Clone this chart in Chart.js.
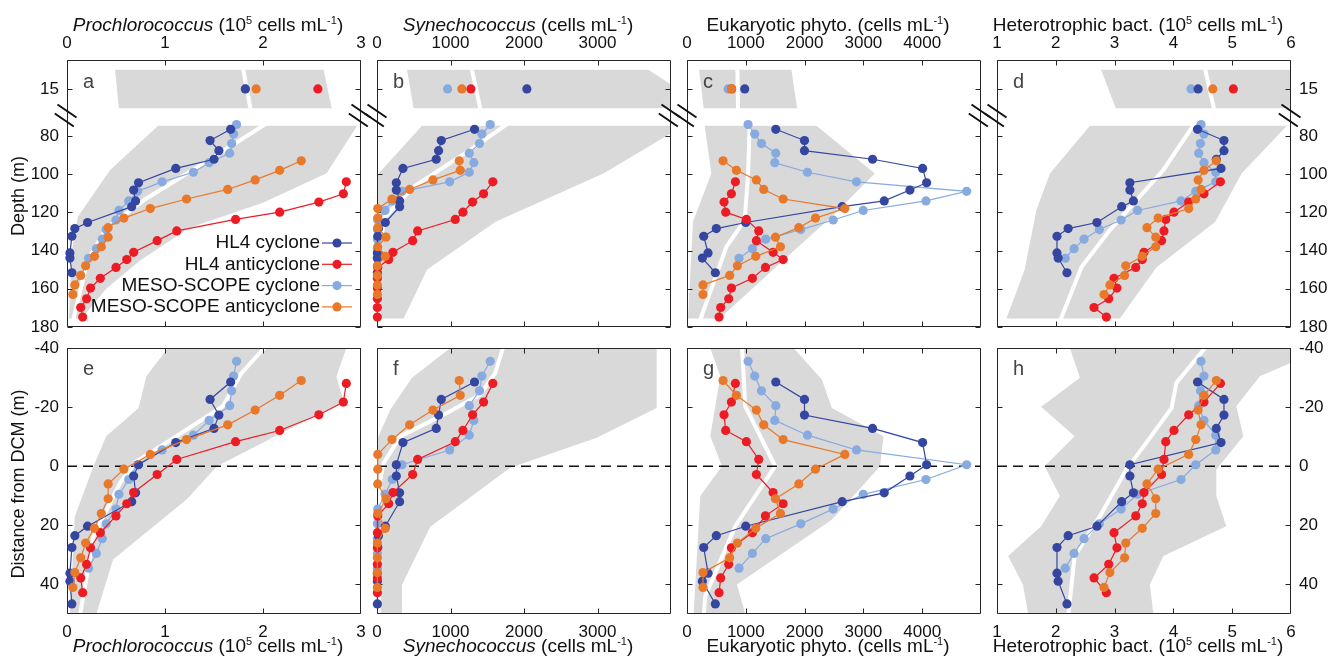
<!DOCTYPE html>
<html>
<head>
<meta charset="utf-8">
<title>Eddy profiles</title>
<script src="https://cdn.jsdelivr.net/npm/chart.js"></script>
<style>
  body { margin: 0; width: 1336px; height: 664px; position: relative; overflow: hidden; background: #fff;
         font-family: "Liberation Sans", Arial, Helvetica, sans-serif; color: #111; }
  canvas { position: absolute; }
  .lbl { position: absolute; font-size: 19px; line-height: 19px; white-space: nowrap; transform: translateX(-50%); }
  .lbl sup, .ylbl sup { font-size: 11px; line-height: 0; vertical-align: 7px; }
  .ylbl { position: absolute; font-size: 18px; line-height: 18px; white-space: nowrap; transform: translate(-50%, -50%) rotate(-90deg); }
  .letter { position: absolute; font-size: 20px; line-height: 20px; color: #444; }
</style>
</head>
<body>
<script>
// ---- series ---------------------------------------------------------------
const seriesNames = ['HL4 cyclone', 'HL4 anticyclone', 'MESO-SCOPE cyclone', 'MESO-SCOPE anticyclone'];
const seriesColors = ['#3446a0', '#ec1c24', '#87aadf', '#e8782a'];

// sample depths (m), one array per profile
const surfaceDepth = 15;
const depthHL4Cyc  = [76.5, 82.4, 87.7, 92.2, 97, 104.5, 108.3, 114, 117, 125.3, 128.5, 132.5, 141.2, 143.9, 151.6];
const depthHL4Anti = [104, 110.3, 114.6, 119.9, 123.7, 129.7, 134.8, 140.9, 144.7, 148.8, 154.5, 159.6, 165.2, 169.8, 174.8];
const depthMesoCyc = [74, 79, 84, 89, 94, 99, 104, 109, 114, 119, 124, 129, 134, 139, 144];
const depthMesoAnti = [93, 98, 103, 108, 113, 118, 123, 128, 133, 138, 143, 148, 153, 158, 163];
// depth of the chlorophyll maximum of each profile (m)
const dcmDepth = [105, 132, 109.5, 122];

// Prochlorococcus (10^5 cells/mL)
const proSurface  = [1.82, 2.56, 1.82, 1.93];
const proHL4Cyc   = [1.67, 1.46, 1.55, 1.50, 1.11, 0.73, 0.68, 0.70, 0.66, 0.21, 0.08, 0.05, 0.03, 0.03, 0.05];
const proHL4Anti  = [2.85, 2.82, 2.57, 2.17, 1.72, 1.12, 0.92, 0.68, 0.61, 0.50, 0.34, 0.24, 0.20, 0.14, 0.16];
const proMesoCyc  = [1.73, 1.70, 1.68, 1.66, 1.45, 1.29, 0.97, 0.72, 0.63, 0.53, 0.50, 0.40, 0.36, 0.30, 0.22];
const proMesoAnti = [2.39, 2.17, 1.92, 1.64, 1.22, 0.85, 0.58, 0.42, 0.42, 0.35, 0.28, 0.19, 0.14, 0.08, 0.06];

// Synechococcus (cells/mL)
const synSurface  = [2039, 1278, 960, 1155];
const synHL4Cyc   = [1327, 874, 838, 806, 353, 263, 263, 308, 308, 113, 20, 10, 5, 5, 5];
const synHL4Anti  = [1576, 1450, 1300, 1169, 1065, 553, 485, 217, 159, 10, 5, 5, 5, 5, 5];
const synMesoCyc  = [1540, 1427, 1395, 1255, 1318, 1255, 988, 340, 208, 109, 10, 5, 5, 5, 5];
const synMesoAnti = [1119, 1133, 761, 444, 204, 10, 10, 10, 122, 10, 113, 5, 5, 5, 5];

// eukaryotic phytoplankton (cells/mL)
const eukSurface  = [982, 760, 698, 755];
const eukHL4Cyc   = [1510, 1998, 1998, 3156, 4007, 4075, 3791, 3354, 2639, 999, 499, 284, 358, 261, 482];
const eukHL4Anti  = [823, 755, 630, 658, 1010, 1220, 1180, 1464, 1635, 1334, 1112, 755, 709, 573, 545];
const eukMesoCyc  = [1039, 1152, 1266, 1510, 1493, 2049, 2883, 4756, 4064, 2997, 2486, 1935, 1339, 1112, 885];
const eukMesoAnti = [613, 840, 1180, 1305, 1635, 2684, 2185, 1901, 1504, 1589, 1169, 857, 726, 272, 272];

// heterotrophic bacteria (10^5 cells/mL)
const bactSurface  = [4.42, 5.02, 4.30, 4.67];
const bactHL4Cyc   = [4.41, 4.86, 4.86, 4.73, 4.81, 3.26, 3.26, 3.32, 3.12, 2.70, 2.21, 2.02, 2.02, 2.04, 2.19];
const bactHL4Anti  = [4.80, 4.52, 4.26, 4.01, 3.87, 3.84, 3.80, 3.50, 3.47, 3.36, 2.99, 3.04, 2.90, 2.65, 2.86];
const bactMesoCyc  = [4.47, 4.52, 4.46, 4.43, 4.52, 4.72, 4.72, 4.38, 4.13, 3.39, 3.11, 2.74, 2.48, 2.31, 2.16];
const bactMesoAnti = [4.73, 4.52, 4.42, 4.47, 4.38, 4.26, 3.74, 3.55, 3.70, 3.70, 3.47, 3.19, 3.17, 2.92, 2.82];

// ---- shaded ranges ([value, depth] vertices) and the white divider between them
const proSurfBand = [[0.49, 5], [2.62, 5], [2.70, 25], [0.53, 25]];
const proSurfGap  = [[1.795, 4], [1.875, 26]];
const proDeepBand = [[0.93, 74.6], [2.96, 74.6], [2.65, 99.5], [2.0, 115], [1.25, 128], [0.75, 145], [0.40, 160], [0.15, 175.5], [0.02, 175.5], [0.05, 140], [0.11, 122.3], [0.44, 97.8]];
const proDeepGap  = [[2.05, 73], [1.42, 93.5], [0.81, 112.7], [0.40, 128.5], [0.21, 145], [0.06, 177]];
const proDcmBand  = [[1.03, -40], [2.85, -40], [2.75, -30.4], [2.82, -22], [1.53, 0], [1.22, 11.3], [0.47, 31.6], [0.30, 50], [0.03, 50], [0.08, 16.9], [0.27, 0], [0.40, -10.1], [0.73, -19.7], [0.81, -30.4]];
const proDcmGap   = [[2.04, -41], [1.78, -31.5], [1.59, -20.3], [1.01, -7.9], [0.71, -1.7], [0.54, 5.7], [0.27, 23.7], [0.13, 51]];

const synSurfBand = [[408, 5], [3692, 5], [4000, 12.7], [4000, 25], [498, 25]];
const synSurfGap  = [[1285, 4], [1410, 26]];
const synDeepBand = [[612, 74.6], [4000, 74.6], [4000, 78.6], [3080, 99.6], [1608, 125], [680, 150], [362, 175.5], [0, 175.5], [0, 102], [23, 99.6]];
const synDeepGap  = [[1800, 73], [1268, 87.3], [498, 106.6], [113, 122.3], [45, 134.6], [23, 177]];
const synDcmBand  = [[997, -40], [3805, -40], [3805, -19.7], [2990, -9.6], [1812, 0.5], [725, 20.5], [340, 40.1], [340, 50], [0, 50], [0, -9], [23, -10.2], [181, -19.2], [476, -29.9]];
const synDcmGap   = [[1725, -41], [1608, -31.5], [1404, -24.2], [951, -18], [317, -10.1], [91, -1.1], [45, 4.5], [23, 51]];

const eukSurfBand = [[205, 5], [1776, 5], [1873, 25], [284, 25]];
const eukSurfGap  = [[857, 4], [868, 26]];
const eukDeepBand = [[301, 74.6], [2202, 74.6], [3195, 99.6], [2458, 122.3], [1578, 146.8], [556, 175.5], [17, 175.5], [102, 124.8], [414, 99.6]];
const eukDeepGap  = [[1067, 73], [1039, 99.6], [982, 124], [670, 138], [216, 177]];
const eukDcmBand  = [[396, -40], [1812, -40], [2293, -29.3], [2463, -19.7], [3341, -10.1], [3284, 0], [2463, 18.1], [849, 40], [991, 50], [113, 50], [226, 10.1], [594, 0], [396, -10.1], [566, -30.4]];
const eukDcmGap   = [[934, -41], [991, -20.3], [1500, 0], [821, 20.3], [311, 44], [283, 51]];

const bactSurfBand = [[2.77, 5], [6, 5], [6, 25], [3.02, 25]];
const bactSurfGap  = [[4.535, 4], [4.695, 26]];
const bactDeepBand = [[2.58, 74.6], [5.93, 74.6], [5.16, 99.6], [4.71, 125], [3.71, 148.8], [3.09, 175.5], [1.16, 175.5], [1.47, 150], [1.67, 118.8], [1.90, 99.6]];
const bactDeepGap  = [[4.37, 73], [3.83, 97.8], [2.92, 129.3], [2.44, 148.5], [2.07, 177]];
const bactDcmBand  = [[2.24, -40], [6, -40], [6, -35], [5.47, -30.4], [5.07, -20.3], [5.19, -10.1], [4.73, 1.1], [4.73, 10.1], [4.90, 20.3], [3.83, 30.4], [3.60, 40], [3.66, 50], [1.53, 50], [1.44, 40], [1.19, 30.4], [1.75, 20.3], [2.07, 10.1], [1.81, 0], [2.32, -10.1], [1.75, -20.1], [2.41, -29.9]];
const bactDcmGap   = [[4.58, -41], [4.05, -28.2], [3.97, -19.7], [3.60, -9.6], [3.20, 1.1], [2.75, 16.9], [2.32, 30.4], [2.21, 51]];

// ---- axes -----------------------------------------------------------------
const proTicks = [0, 1, 2, 3];
const synTicks = [0, 1000, 2000, 3000];
const eukTicks = [0, 1000, 2000, 3000, 4000];
const bactTicks = [1, 2, 3, 4, 5, 6];
const surfaceDepthTicks = [15];
const deepDepthTicks = [80, 100, 120, 140, 160, 180];
const dcmTicks = [-40, -20, 0, 20, 40];

const profileDepths = [depthHL4Cyc, depthHL4Anti, depthMesoCyc, depthMesoAnti];

const panels = [
  { xMin: 0, xMax: 3, xTicks: proTicks, surface: proSurface,
    profiles: [proHL4Cyc, proHL4Anti, proMesoCyc, proMesoAnti],
    surfBand: proSurfBand, surfGap: proSurfGap, deepBand: proDeepBand, deepGap: proDeepGap, dcmBand: proDcmBand, dcmGap: proDcmGap,
    title: '<i>Prochlorococcus</i> (10<sup>5</sup> cells mL<sup>-1</sup>)', letters: ['a', 'e'] },
  { xMin: 0, xMax: 4000, xTicks: synTicks, surface: synSurface,
    profiles: [synHL4Cyc, synHL4Anti, synMesoCyc, synMesoAnti],
    surfBand: synSurfBand, surfGap: synSurfGap, deepBand: synDeepBand, deepGap: synDeepGap, dcmBand: synDcmBand, dcmGap: synDcmGap,
    title: '<i>Synechococcus</i> (cells mL<sup>-1</sup>)', letters: ['b', 'f'] },
  { xMin: 0, xMax: 5000, xTicks: eukTicks, surface: eukSurface,
    profiles: [eukHL4Cyc, eukHL4Anti, eukMesoCyc, eukMesoAnti],
    surfBand: eukSurfBand, surfGap: eukSurfGap, deepBand: eukDeepBand, deepGap: eukDeepGap, dcmBand: eukDcmBand, dcmGap: eukDcmGap,
    title: 'Eukaryotic phyto. (cells mL<sup>-1</sup>)', letters: ['c', 'g'] },
  { xMin: 1, xMax: 6, xTicks: bactTicks, surface: bactSurface,
    profiles: [bactHL4Cyc, bactHL4Anti, bactMesoCyc, bactMesoAnti],
    surfBand: bactSurfBand, surfGap: bactSurfGap, deepBand: bactDeepBand, deepGap: bactDeepGap, dcmBand: bactDcmBand, dcmGap: bactDcmGap,
    title: 'Heterotrophic bact. (10<sup>5</sup> cells mL<sup>-1</sup>)', letters: ['d', 'h'] }
];

// ---- layout ---------------------------------------------------------------
const colLeft = [67, 377, 687, 997];
const PW = 294, M = 50;
const boxes = { surf: [60, 54], deep: [114, 213], dcm: [348, 266] };
const yRanges = { surf: [0, 28], deep: [68.5, 180], dcm: [-40, 50] };
const yTickSets = { surf: surfaceDepthTicks, deep: deepDepthTicks, dcm: dcmTicks };
const drawOrder = [2, 0, 1, 3];          // light blue under, orange on top
const seriesOrder = [6, 5, 7, 4];
const tickFont = { family: '"Liberation Sans", Arial, sans-serif', size: 17 };

function xy(xs, ys) { return xs.map((v, i) => ({ x: v, y: ys[i] })); }
function verts(list) { return list.map(p => ({ x: p[0], y: p[1] })); }

function bandSet(list) {
  return { role: 'band', data: verts(list), showLine: true, fill: 'shape', backgroundColor: '#d9d9d9',
           borderColor: 'rgba(0,0,0,0)', borderWidth: 0, pointRadius: 0, order: 10 };
}
function gapSet(list) {
  return { role: 'gap', data: verts(list), showLine: true, fill: false, borderColor: '#ffffff',
           borderWidth: 4, pointRadius: 0, order: 9 };
}
function zeroSet(p) {
  return { role: 'zero', data: [{ x: p.xMin, y: 0 }, { x: p.xMax, y: 0 }], showLine: true, fill: false,
           borderColor: '#111', borderWidth: 1.6, borderDash: [10, 6], pointRadius: 0, order: 8 };
}
function profileSets(values, depthOf) {
  return drawOrder.map(s => ({
    role: 'series', label: seriesNames[s], data: xy(values[s], depthOf(s)), showLine: true, fill: false,
    borderColor: seriesColors[s], backgroundColor: seriesColors[s], pointBackgroundColor: seriesColors[s],
    borderWidth: 1.2, pointRadius: 4.6, pointHoverRadius: 4.6, pointBorderWidth: 0, clip: false, order: seriesOrder[s]
  }));
}
function surfaceSets(values) {
  return drawOrder.map(s => ({
    role: 'series', label: seriesNames[s], data: [{ x: values[s], y: surfaceDepth }], showLine: false,
    backgroundColor: seriesColors[s], pointBackgroundColor: seriesColors[s], pointRadius: 4.6,
    pointHoverRadius: 4.6, pointBorderWidth: 0, clip: false, order: seriesOrder[s]
  }));
}

// box, inward ticks, axis-break marks and the legend
const framePlugin = {
  id: 'frame',
  afterDatasetDraw(chart, args, opts) {
    if (chart.data.datasets[args.index].role !== 'gap') return;
    const { ctx, chartArea: a, scales: { x, y } } = chart;
    const L = a.left + 0.5, R = a.right - 0.5, T = a.top + 0.5, B = a.bottom - 0.5, tl = 5;
    ctx.save();
    ctx.strokeStyle = '#262626';
    ctx.lineWidth = 1;
    ctx.beginPath();
    ctx.moveTo(L, opts.top ? T : a.top); ctx.lineTo(L, opts.bottom ? B : a.bottom);
    ctx.moveTo(R, opts.top ? T : a.top); ctx.lineTo(R, opts.bottom ? B : a.bottom);
    if (opts.top) { ctx.moveTo(L, T); ctx.lineTo(R, T); }
    if (opts.bottom) { ctx.moveTo(L, B); ctx.lineTo(R, B); }
    x.ticks.forEach(t => {
      const px = Math.min(R, Math.max(L, Math.round(x.getPixelForValue(t.value)) + 0.5));
      if (opts.top) { ctx.moveTo(px, T); ctx.lineTo(px, T + tl); }
      if (opts.bottom) { ctx.moveTo(px, B); ctx.lineTo(px, B - tl); }
    });
    y.ticks.forEach(t => {
      const py = Math.round(y.getPixelForValue(t.value)) + 0.5;
      ctx.moveTo(L, py); ctx.lineTo(L + tl, py);
      ctx.moveTo(R, py); ctx.lineTo(R - tl, py);
    });
    ctx.stroke();
    ctx.restore();
  },
  afterDraw(chart, args, opts) {
    const { ctx, chartArea: a } = chart;
    ctx.save();
    if (opts.breaks) {
      ctx.strokeStyle = '#111';
      ctx.lineWidth = 2;
      ctx.beginPath();
      [a.left, a.right].forEach(ex => {
        [[0, -3], [-2.7, 6]].forEach(([dx, dy]) => {
          const cx = ex + dx, cy = a.top + dy;
          ctx.moveTo(cx - 9.5, cy - 6.5);
          ctx.lineTo(cx + 9.5, cy + 6.5);
        });
      });
      ctx.stroke();
    }
    if (opts.legend) {
      ctx.font = '19px "Liberation Sans", Arial, sans-serif';
      ctx.textAlign = 'right';
      ctx.textBaseline = 'middle';
      seriesNames.forEach((name, s) => {
        const yy = a.top + 129 + s * 21.3;
        ctx.fillStyle = '#111';
        ctx.fillText(name, a.right - 41, yy);
        ctx.strokeStyle = seriesColors[s];
        ctx.lineWidth = 1.2;
        ctx.beginPath();
        ctx.moveTo(a.right - 39, yy); ctx.lineTo(a.right - 9, yy);
        ctx.stroke();
        ctx.fillStyle = seriesColors[s];
        ctx.beginPath();
        ctx.arc(a.right - 24, yy, 4.6, 0, Math.PI * 2);
        ctx.fill();
      });
    }
    ctx.restore();
  }
};

function makeChart(col, kind, p) {
  const [top, h] = boxes[kind];
  const canvas = document.createElement('canvas');
  canvas.width = PW + 2 * M;
  canvas.height = h + 2 * M;
  canvas.style.left = (colLeft[col] - M) + 'px';
  canvas.style.top = (top - M) + 'px';
  document.body.appendChild(canvas);

  let datasets;
  if (kind === 'surf') {
    datasets = [bandSet(p.surfBand), gapSet(p.surfGap), ...surfaceSets(p.surface)];
  } else if (kind === 'deep') {
    datasets = [bandSet(p.deepBand), gapSet(p.deepGap), ...profileSets(p.profiles, s => profileDepths[s])];
  } else {
    datasets = [bandSet(p.dcmBand), gapSet(p.dcmGap), zeroSet(p),
                ...profileSets(p.profiles, s => profileDepths[s].map(d => d - dcmDepth[s]))];
  }

  const xShown = kind !== 'deep';
  const yShown = col === 0 || col === 3;
  const yTicks = yTickSets[kind];

  new Chart(canvas, {
    type: 'scatter',
    data: { datasets },
    options: {
      responsive: false,
      animation: false,
      devicePixelRatio: 1,
      events: [],
      layout: { padding: { top: kind === 'surf' ? 0 : M, bottom: kind === 'dcm' ? 0 : M,
                           left: col === 0 ? 0 : M, right: col === 3 ? 0 : M } },
      plugins: {
        legend: { display: false },
        tooltip: { enabled: false },
        frame: { top: kind !== 'deep', bottom: kind !== 'surf', breaks: kind === 'deep', legend: kind === 'deep' && col === 0 }
      },
      scales: {
        x: {
          type: 'linear', min: p.xMin, max: p.xMax, display: xShown,
          position: kind === 'surf' ? 'top' : 'bottom',
          grid: { display: false, drawTicks: false }, border: { display: false },
          ticks: { font: tickFont, color: '#111', padding: kind === 'surf' ? 6 : 8, maxRotation: 0, autoSkip: false,
                   callback: v => String(v) },
          afterBuildTicks: s => { s.ticks = p.xTicks.map(v => ({ value: v })); },
          afterFit: xShown ? (s => { s.height = M; }) : undefined
        },
        y: {
          type: 'linear', min: yRanges[kind][0], max: yRanges[kind][1], reverse: true, display: yShown,
          position: col === 3 ? 'right' : 'left',
          grid: { display: false, drawTicks: false }, border: { display: false },
          ticks: { font: tickFont, color: '#111', padding: 8, autoSkip: false, callback: v => String(v) },
          afterBuildTicks: s => { s.ticks = yTicks.map(v => ({ value: v })); },
          afterFit: yShown ? (s => { s.width = M; }) : undefined
        }
      }
    },
    plugins: [framePlugin]
  });
}

function addText(cls, html, left, top) {
  const d = document.createElement('div');
  d.className = cls;
  d.innerHTML = html;
  d.style.left = left + 'px';
  d.style.top = top + 'px';
  document.body.appendChild(d);
}

panels.forEach((p, col) => {
  makeChart(col, 'surf', p);
  makeChart(col, 'deep', p);
  makeChart(col, 'dcm', p);
  const cx = colLeft[col] + PW / 2 - 6;
  addText('lbl', p.title, cx, 15);
  addText('lbl', p.title, cx, 636);
  addText('letter', p.letters[0], colLeft[col] + 16, 71);
  addText('letter', p.letters[1], colLeft[col] + 16, 358);
});
addText('ylbl', 'Depth (m)', 18, 196);
addText('ylbl', 'Distance from DCM (m)', 18, 484);
</script>
</body>
</html>
